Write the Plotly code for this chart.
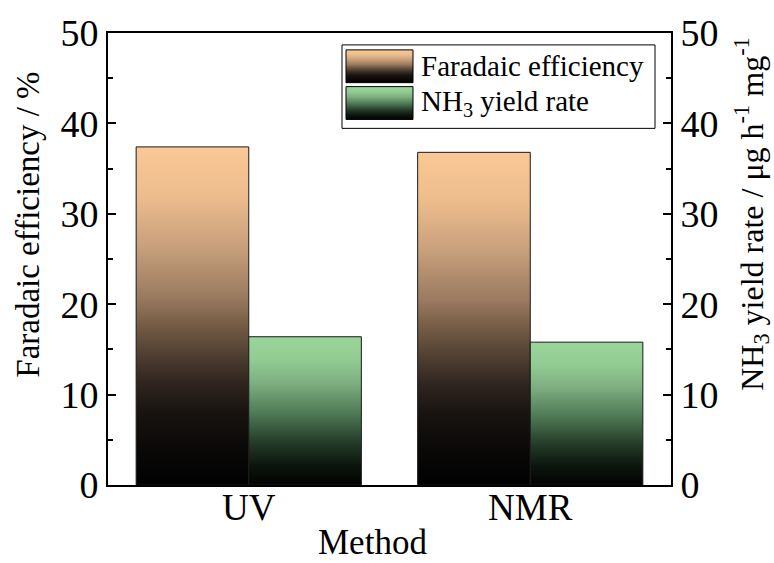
import plotly.graph_objects as go

methods = ["UV", "NMR"]
fe_values = [37.4, 36.8]
yield_values = [16.4, 15.8]
series_names = ["Faradaic efficiency", "NH<sub>3</sub> yield rate"]
x_title = "Method"
y_title = "Faradaic efficiency / %"
y2_title = "NH<sub>3</sub> yield rate / μg h<sup>-1</sup> mg<sup>-1</sup>"

FONT = "Liberation Serif"
fe_scale = [[0, "#000000"], [0.12, "#0b0908"], [0.22, "#181310"], [0.31, "#302520"],
            [0.41, "#574536"], [0.49, "#7a6048"], [0.56, "#9a7a60"], [0.71, "#c8a07c"],
            [0.86, "#eebd8e"], [1, "#fac896"]]
gr_scale = [[0, "#000000"], [0.15, "#0c150d"], [0.3, "#233a27"], [0.5, "#4f7a55"],
            [0.7, "#7eae80"], [0.86, "#92cc93"], [1, "#9ad49a"]]

W, H = 774, 563
L, R, T, B = 108, 103, 30, 78
PW, PH = W - L - R, H - T - B
group_w = 0.8
fig = go.Figure()

def px_x(px):
    return (px - L) / PW

def px_y(py):
    return (H - B - py) / PH

def add_bar(i, v, offset, scale, yaxis):
    x0 = i + offset
    x1 = x0 + group_w / 2
    fig.add_trace(go.Scatter(
        x=[x0, x1, x1, x0, x0], y=[0, 0, v, v, 0],
        mode="lines", fill="toself",
        line=dict(color="#1a1a1a", width=1),
        fillgradient=dict(type="vertical", colorscale=scale, start=0, stop=v),
        showlegend=False, yaxis=yaxis, hoverinfo="skip"))

for i, v in enumerate(fe_values):
    add_bar(i, v, -group_w / 2, fe_scale, "y")
for i, v in enumerate(yield_values):
    add_bar(i, v, 0, gr_scale, "y2")

# hand-made legend on a pixel-space overlay axis pair
legend_rows = [(47, 80, fe_scale), (84, 117, gr_scale)]
for (top, bot, scale), name in zip(legend_rows, series_names):
    fig.add_trace(go.Scatter(
        x=[346, 413, 413, 346, 346], y=[bot, bot, top, top, bot],
        xaxis="x3", yaxis="y3", mode="lines", fill="toself",
        line=dict(color="black", width=1),
        fillgradient=dict(type="vertical", colorscale=scale, start=bot, stop=top),
        showlegend=False, hoverinfo="skip"))

annotations = []
for (top, bot, _), name in zip(legend_rows, series_names):
    annotations.append(dict(x=px_x(419), y=px_y((top + bot) / 2), xref="paper", yref="paper",
                            text=name, showarrow=False, xanchor="left", yanchor="middle",
                            font=dict(family=FONT, size=29, color="black")))
annotations += [
    dict(x=px_x(372), y=px_y(543), xref="paper", yref="paper", text=x_title, showarrow=False,
         xanchor="center", yanchor="middle", font=dict(family=FONT, size=35, color="black")),
    dict(x=px_x(28), y=px_y(223), xref="paper", yref="paper", text=y_title, showarrow=False,
         textangle=-90, xanchor="center", yanchor="middle",
         font=dict(family=FONT, size=33, color="black")),
    dict(x=px_x(752), y=px_y(212), xref="paper", yref="paper", text=y2_title, showarrow=False,
         textangle=-90, xanchor="center", yanchor="middle",
         font=dict(family=FONT, size=32, color="black")),
]

axis_common = dict(showline=True, linecolor="black", linewidth=2, ticks="inside",
                   ticklen=8, tickwidth=2, tickcolor="black", showgrid=False,
                   zeroline=False, range=[0, 50], dtick=10,
                   tickfont=dict(family=FONT, size=38, color="black"),
                   minor=dict(ticks="inside", ticklen=5, tickwidth=2, dtick=5, tickcolor="black"))

fig.update_layout(
    width=W, height=H,
    margin=dict(l=L, r=R, t=T, b=B),
    plot_bgcolor="white", paper_bgcolor="white",
    font=dict(family=FONT, color="black"),
    showlegend=False,
    xaxis=dict(range=[-0.5, 1.5], tickvals=list(range(len(methods))), ticktext=methods,
               showline=True, mirror=True, linecolor="black", linewidth=2,
               ticks="", showgrid=False, zeroline=False, ticklabelstandoff=-11,
               tickfont=dict(family=FONT, size=37, color="black")),
    yaxis=dict(**axis_common),
    yaxis2=dict(**axis_common, overlaying="y", side="right"),
    xaxis3=dict(range=[L, W - R], overlaying="x", visible=False, anchor="y3"),
    yaxis3=dict(range=[H - B, T], overlaying="y", visible=False, anchor="x3"),
    shapes=[dict(type="rect", xref="paper", yref="paper", x0=px_x(342), x1=px_x(655),
                 y0=px_y(42), y1=px_y(126),
                 line=dict(color="black", width=1), fillcolor="rgba(0,0,0,0)", layer="below")],
    annotations=annotations,
)

fig.write_html("out.html")
